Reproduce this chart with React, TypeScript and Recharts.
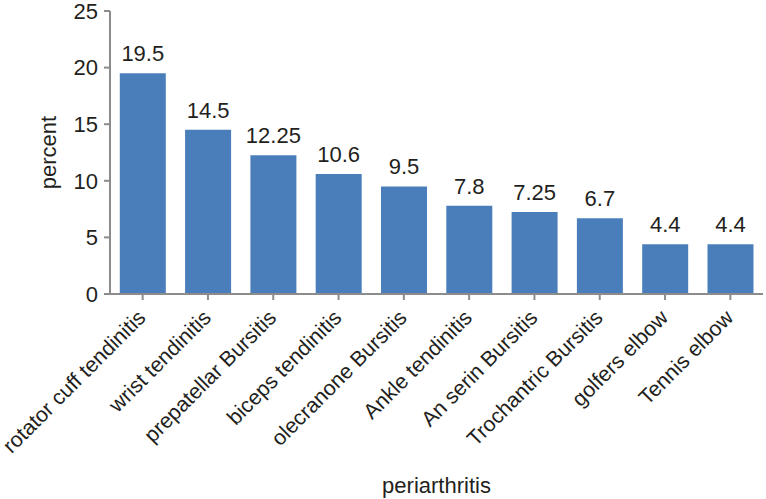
import React from "react";
import { BarChart, Bar, XAxis, YAxis, LabelList, Label } from "recharts";

const categories = [
  "rotator cuff tendinitis",
  "wrist tendinitis",
  "prepatellar Bursitis",
  "biceps tendinitis",
  "olecranone Bursitis",
  "Ankle tendinitis",
  "An serin Bursitis",
  "Trochantric Bursitis",
  "golfers elbow",
  "Tennis elbow",
];
const percents = [19.5, 14.5, 12.25, 10.6, 9.5, 7.8, 7.25, 6.7, 4.4, 4.4];
const yTicks = [0, 5, 10, 15, 20, 25];

const data = categories.map((name, i) => ({ name, value: percents[i] }));

const FONT = "'Liberation Sans', Arial, sans-serif";
const FS = 22;
const TEXT = "#231f20";
const AXIS = "#8c8c8c";

const XTick = (props: any) => {
  const { x, y, payload } = props;
  return (
    <g transform={`translate(${x},${y})`}>
      <text
        x={0}
        y={0}
        dy={15}
        dx={-9}
        textAnchor="end"
        transform="rotate(-45)"
        fill={TEXT}
        fontSize={21.3}
        fontFamily={FONT}
      >
        {payload.value}
      </text>
    </g>
  );
};

export default function App() {
  return (
    <div style={{ position: "absolute", left: 0, top: 0, background: "#fff" }}>
      <BarChart
        width={766}
        height={499}
        data={data}
        margin={{ top: 11, right: 3, bottom: 0, left: 0 }}
        barCategoryGap="15%"
      >
        <XAxis
          dataKey="name"
          height={205}
          interval={0}
          stroke={AXIS}
          strokeWidth={2}
          tickSize={6}
          tick={<XTick />}
          tickLine={{ stroke: AXIS, strokeWidth: 2 }}
        >
          <Label
            value="periarthritis"
            position="insideBottom"
            offset={6}
            fill={TEXT}
            fontSize={FS}
            fontFamily={FONT}
          />
        </XAxis>
        <YAxis
          width={110}
          domain={[0, 25]}
          ticks={yTicks}
          interval={0}
          stroke={AXIS}
          strokeWidth={2}
          tickSize={6}
          tickMargin={6}
          tick={{ fill: TEXT, fontSize: FS, fontFamily: FONT }}
          tickLine={{ stroke: AXIS, strokeWidth: 2 }}
        >
          <Label
            value="percent"
            angle={-90}
            position="center"
            dx={-7}
            fill={TEXT}
            fontSize={FS}
            fontFamily={FONT}
          />
        </YAxis>
        <Bar dataKey="value" fill="#4a7ebb" isAnimationActive={false}>
          <LabelList
            dataKey="value"
            position="top"
            offset={12}
            fill={TEXT}
            fontSize={FS}
            fontFamily={FONT}
          />
        </Bar>
      </BarChart>
    </div>
  );
}
